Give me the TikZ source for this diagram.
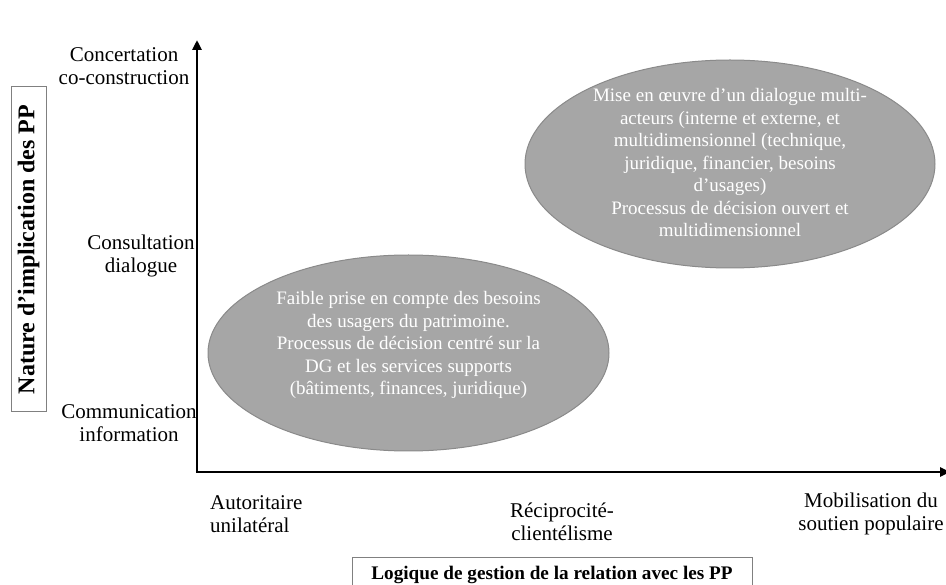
\documentclass[tikz,border=0pt]{standalone}
\usepackage{fontspec}
\setmainfont{Liberation Serif}
\usetikzlibrary{arrows.meta,shapes.geometric}
\definecolor{blobfill}{HTML}{A6A6A6}
\definecolor{blobline}{HTML}{8A8A8A}
\definecolor{boxline}{HTML}{808080}
\begin{document}
\begin{tikzpicture}[x=1pt,y=-1pt,
  every node/.style={font=\fontsize{21}{23}\selectfont},
  blob/.style={ellipse,fill=blobfill,draw=blobline,line width=1pt,inner sep=0pt},
  btext/.style={text=white,align=center,inner sep=0pt,font=\fontsize{19}{22.5}\selectfont},
  lbl/.style={align=center,inner sep=0pt},
  titlebox/.style={draw=boxline,line width=1pt,inner sep=0pt},
  axis/.style={line width=2.5pt,-{Triangle[length=10pt,width=9pt]}}]
\useasboundingbox (0,0) rectangle (946,585);
% axes
\coordinate (O) at (197,472);
\coordinate (Ytop) at (197,40);
\coordinate (Xend) at (950,472);
\draw[axis] (O) -- (Ytop);
\draw[axis] ([xshift=-1.25pt]O) -- (Xend);
% ellipses
\node[blob,minimum width=401pt,minimum height=196pt] (e1) at (408.5,353) {};
\node[btext] (t1) at ([yshift=8pt]e1.center) {Faible prise en compte des besoins\\des usagers du patrimoine.\\Processus de décision centré sur la\\DG et les services supports\\(bâtiments, finances, juridique)};
\node[blob,minimum width=410pt,minimum height=208pt] (e2) at (730,164) {};
\node[btext] (t2) at ([yshift=1pt]e2.center) {Mise en œuvre d’un dialogue multi-\\acteurs (interne et externe, et\\multidimensionnel (technique,\\juridique, financier, besoins\\d’usages)\\Processus de décision ouvert et\\multidimensionnel};
% y labels
\node[lbl] (ly1) at (124,66) {Concertation\\co-construction};
\node[lbl] (ly2) at (141,256) {Consultation\\dialogue};
\node[lbl] (ly3) at (129,423) {Communication\\information};
% x labels
\node[lbl,align=left,anchor=west] (lx1) at (210,514) {Autoritaire\\unilatéral};
\node[lbl] (lx2) at (562,522) {Réciprocité-\\clientélisme};
\node[lbl] (lx3) at (871,514) {Mobilisation du\\soutien populaire};
% title boxes
\node[titlebox,rotate=90,minimum width=325pt,minimum height=35pt,font=\fontsize{24}{26}\selectfont\bfseries] (ty) at (28.5,249.5) {Nature d’implication des PP};
\node[titlebox,minimum width=400pt,minimum height=36pt,font=\fontsize{19.2}{23}\selectfont\bfseries] (tx) at (552,575) {Logique de gestion de la relation avec les PP};
\end{tikzpicture}
\end{document}
